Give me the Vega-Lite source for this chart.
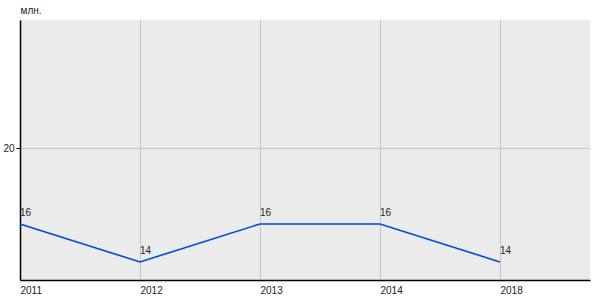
{
  "$schema": "https://vega.github.io/schema/vega-lite/v6.json",
  "width": 570,
  "height": 260,
  "autosize": {"type": "none"},
  "padding": {"left": 20, "top": 20, "right": 10, "bottom": 20},
  "background": "white",
  "config": {
    "view": {"fill": "#ebebeb", "stroke": null},
    "font": "Liberation Sans",
    "axis": {"labelFont": "Liberation Sans", "labelFontSize": 10, "labelColor": "#222", "gridColor": "#c4c4c4", "gridWidth": 1, "domainColor": "#000", "domainWidth": 1.5}
  },
  "data": {"values": [
    {"year": "2011", "value": 16},
    {"year": "2012", "value": 14},
    {"year": "2013", "value": 16},
    {"year": "2014", "value": 16},
    {"year": "2018", "value": 14}
  ]},
  "encoding": {
    "x": {"field": "year", "type": "ordinal", "sort": null,
      "scale": {"type": "point", "padding": 0.375, "align": 0},
      "axis": {"title": null, "labelAngle": 0, "labelAlign": "left", "ticks": false, "labelPadding": 5, "grid": true, "zindex": 0}},
    "y": {"field": "value", "type": "quantitative",
      "scale": {"domain": [13.05, 26.74], "nice": false, "zero": false},
      "axis": {"values": [20], "title": "млн.", "titleAngle": 0, "titleAlign": "left", "titleBaseline": "alphabetic", "titleX": 0, "titleY": -7, "titleFontSize": 10, "titleFontWeight": "normal", "titleColor": "#222", "titleFont": "Liberation Sans", "tickSize": 4, "tickColor": "#000", "labelPadding": 2, "grid": true}}
  },
  "layer": [
    {"mark": {"type": "line", "color": "#0048e0", "strokeWidth": 1.6}},
    {"mark": {"type": "text", "align": "left", "baseline": "alphabetic", "dy": -8, "fontSize": 10, "color": "#222"},
      "encoding": {"text": {"field": "value", "type": "quantitative"}}}
  ]
}
